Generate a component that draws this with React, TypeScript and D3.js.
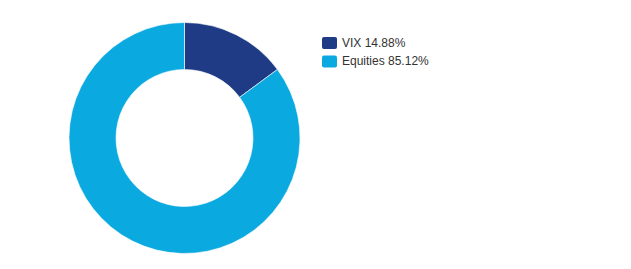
import React from "react";
import * as d3 from "d3";

const labels = ["VIX", "Equities"];
const values = [14.88, 85.12];
const colors = ["#1f3b85", "#0aa9e0"];

export default function App() {
  const width = 631;
  const height = 269;
  const cx = 184.5;
  const cy = 138;
  const outerR = 115.5;
  const innerR = 68.5;

  const pie = d3.pie<number>().sort(null).value((d) => d);
  const arcs = pie(values);
  const arc = d3.arc<d3.PieArcDatum<number>>().innerRadius(innerR).outerRadius(outerR);

  return (
    <svg
      width={width}
      height={height}
      style={{ position: "absolute", left: 0, top: 0 }}
    >
      <rect width={width} height={height} fill="#ffffff" />
      <g transform={`translate(${cx},${cy})`}>
        {arcs.map((a, i) => (
          <path key={i} d={arc(a) || ""} fill={colors[i]} stroke="#ffffff" strokeWidth={0.6} />
        ))}
      </g>
      <g transform="translate(322,37)">
        {labels.map((l, i) => (
          <g key={l} transform={`translate(0,${i * 18.5})`}>
            <rect width={15} height={12} rx={2} fill={colors[i]} />
            <text
              x={20}
              y={6.5}
              dominantBaseline="middle"
              fontFamily="Liberation Sans, Arial, sans-serif"
              fontSize={12}
              fill="#333333"
            >
              {`${l} ${values[i].toFixed(2)}%`}
            </text>
          </g>
        ))}
      </g>
    </svg>
  );
}
